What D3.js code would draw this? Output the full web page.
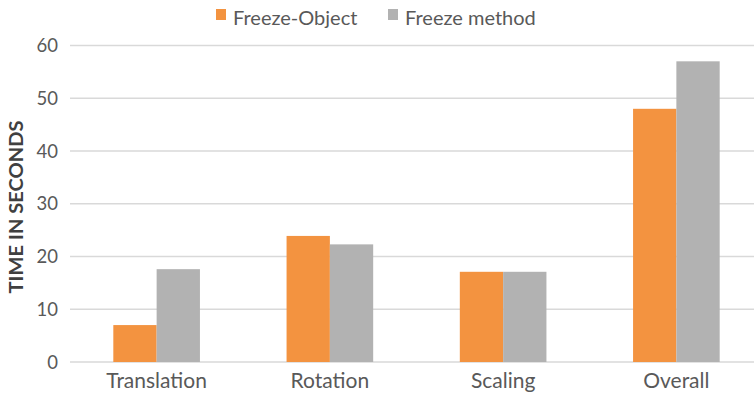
<!DOCTYPE html>
<html><head><meta charset="utf-8">
<script src="https://cdn.jsdelivr.net/npm/d3@7"></script>
<style>body{margin:0;background:#fff;} svg{display:block;font-family:Lato,"Open Sans",sans-serif;}</style>
</head><body>
<svg id="c" width="754" height="394"></svg>
<script>
const categories = ["Translation", "Rotation", "Scaling", "Overall"];
const seriesNames = ["Freeze-Object", "Freeze method"];
const freezeObject = [7.0, 23.9, 17.1, 48.0];
const freezeMethod = [17.6, 22.3, 17.1, 57.0];
const yTicks = [0, 10, 20, 30, 40, 50, 60];
const colors = ["#F39340", "#B2B2B2"];

(function () {
const svg = d3.select("#c");
const mLeft = 70, mRight = 763, mTop = 45.5, mBottom = 362;
const x = d3.scaleBand().domain(categories).range([mLeft, mRight]).paddingInner(0.5).paddingOuter(0.25);
const x1 = d3.scaleBand().domain(seriesNames).range([0, x.bandwidth()]);
const y = d3.scaleLinear().domain([0, 60]).range([mBottom, mTop]);

// gridlines
svg.append("g").selectAll("line").data(yTicks).join("line")
  .attr("x1", mLeft).attr("x2", 754)
  .attr("y1", d => y(d)).attr("y2", d => y(d))
  .attr("stroke", "#d9d9d9").attr("stroke-width", 1.5);

// y tick labels
svg.append("g").selectAll("text").data(yTicks).join("text")
  .attr("x", 58).attr("y", d => y(d)).attr("dy", "0.36em")
  .attr("text-anchor", "end").attr("font-size", 18.5).attr("fill", "#595959")
  .text(d => d);

// y title
svg.append("text").attr("transform", `translate(23,207) rotate(-90)`)
  .attr("text-anchor", "middle").attr("font-size", 19).attr("font-weight", "bold")
  .attr("textLength", 173).attr("lengthAdjust", "spacingAndGlyphs")
  .attr("fill", "#404040").text("TIME IN SECONDS");

const data = categories.map((c, i) => ({cat: c, vals: [freezeObject[i], freezeMethod[i]]}));
const g = svg.append("g").selectAll("g").data(data).join("g")
  .attr("transform", d => `translate(${x(d.cat)},0)`);
g.selectAll("rect").data(d => d.vals.map((v, j) => ({s: seriesNames[j], v, j}))).join("rect")
  .attr("x", d => x1(d.s)).attr("width", x1.bandwidth())
  .attr("y", d => y(d.v)).attr("height", d => y(0) - y(d.v))
  .attr("fill", d => colors[d.j]);

// x labels
svg.append("g").selectAll("text").data(categories).join("text")
  .attr("x", d => x(d) + x.bandwidth() / 2).attr("y", 388)
  .attr("text-anchor", "middle").attr("font-size", 21).attr("fill", "#595959")
  .text(d => d);

// legend
const legX = [216, 388];
const leg = svg.append("g").selectAll("g").data(seriesNames).join("g")
  .attr("transform", (d, i) => `translate(${legX[i]},0)`);
leg.append("rect").attr("x", 0).attr("y", 9).attr("width", 10).attr("height", 11)
  .attr("fill", (d, i) => colors[i]);
leg.append("text").attr("x", 17).attr("y", 25)
  .attr("font-size", 20).attr("fill", "#595959").text(d => d);
})();
</script>
</body></html>
